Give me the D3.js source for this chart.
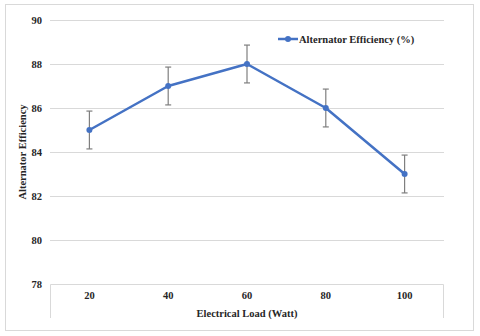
<!DOCTYPE html>
<html>
<head>
<meta charset="utf-8">
<script src="https://cdn.jsdelivr.net/npm/d3@7"></script>
<style>
  body { margin: 0; background: #fff; }
  text { font-family: "Liberation Serif", "Times New Roman", serif; font-weight: bold; fill: #262626; }
</style>
</head>
<body>
<div id="chart"></div>
<script>
// data
var loads = ["20", "40", "60", "80", "100"];
var efficiency = [85, 87, 88, 86, 83];
var errors = [0.86, 0.86, 0.86, 0.86, 0.86];
var yTicks = [78, 80, 82, 84, 86, 88, 90];
var seriesName = "Alternator Efficiency (%)";

var W = 480, H = 336;
var margin = {top: 20, right: 36, bottom: 52, left: 50},
    width = W - margin.left - margin.right,
    height = H - margin.top - margin.bottom;

var svg = d3.select("#chart")
  .append("svg")
    .attr("width", W)
    .attr("height", H);

// outer frame
svg.append("rect")
  .attr("x", 5.5).attr("y", 4.5)
  .attr("width", 468).attr("height", 326)
  .attr("fill", "none")
  .attr("stroke", "#d9d9d9");

var g = svg.append("g")
  .attr("transform", "translate(" + margin.left + "," + margin.top + ")");

var x = d3.scaleBand()
  .domain(loads)
  .range([0, width]);

var y = d3.scaleLinear()
  .domain([78, 90])
  .range([height, 0]);

// gridlines
g.append("g")
  .selectAll("line")
  .data(yTicks.slice(1))
  .enter()
  .append("line")
    .attr("x1", 0).attr("x2", width)
    .attr("y1", d => Math.round(y(d)) + 0.5)
    .attr("y2", d => Math.round(y(d)) + 0.5)
    .attr("stroke", "#d9d9d9")
    .attr("stroke-width", 1);

// y tick labels
g.append("g")
  .selectAll("text")
  .data(yTicks)
  .enter()
  .append("text")
    .attr("x", -8)
    .attr("y", d => y(d))
    .attr("dy", "0.35em")
    .attr("text-anchor", "end")
    .style("font-size", "10.5px")
    .text(d => d);

// category axis box
var axisG = g.append("g").attr("transform", "translate(0," + height + ")");
axisG.append("path")
  .attr("d", "M0.5,34V0.5H" + (width - 0.5) + "V34")
  .attr("fill", "none")
  .attr("stroke", "#d9d9d9");

axisG.selectAll("text")
  .data(loads)
  .enter()
  .append("text")
    .attr("x", d => x(d) + x.bandwidth() / 2)
    .attr("y", 11)
    .attr("dy", "0.35em")
    .attr("text-anchor", "middle")
    .style("font-size", "10.5px")
    .text(d => d);

// axis titles
svg.append("text")
  .attr("x", margin.left + width / 2)
  .attr("y", 313)
  .attr("dy", "0.35em")
  .attr("text-anchor", "middle")
  .style("font-size", "10.5px")
  .text("Electrical Load (Watt)");

svg.append("text")
  .attr("transform", "translate(22," + (margin.top + y(84)) + ") rotate(-90)")
  .attr("dy", "0.35em")
  .attr("text-anchor", "middle")
  .style("font-size", "10.5px")
  .text("Alternator Efficiency");

var pts = loads.map((d, i) => ({load: d, val: efficiency[i], err: errors[i]}));
var cx = d => x(d.load) + x.bandwidth() / 2;

// error bars
var eb = g.append("g")
  .selectAll("g")
  .data(pts)
  .enter()
  .append("g")
    .attr("stroke", "#7f7f7f")
    .attr("stroke-width", 1.2);
eb.append("line")
  .attr("x1", cx).attr("x2", cx)
  .attr("y1", d => y(d.val + d.err))
  .attr("y2", d => y(d.val - d.err));
eb.append("line")
  .attr("x1", d => cx(d) - 3).attr("x2", d => cx(d) + 3)
  .attr("y1", d => y(d.val + d.err)).attr("y2", d => y(d.val + d.err));
eb.append("line")
  .attr("x1", d => cx(d) - 3).attr("x2", d => cx(d) + 3)
  .attr("y1", d => y(d.val - d.err)).attr("y2", d => y(d.val - d.err));

// line
var line = d3.line()
  .x(cx)
  .y(d => y(d.val));

g.append("path")
  .datum(pts)
  .attr("fill", "none")
  .attr("stroke", "#4472c4")
  .attr("stroke-width", 2.5)
  .attr("stroke-linejoin", "round")
  .attr("d", line);

g.append("g")
  .selectAll("circle")
  .data(pts)
  .enter()
  .append("circle")
    .attr("cx", cx)
    .attr("cy", d => y(d.val))
    .attr("r", 3)
    .attr("fill", "#4472c4");

// legend
var lg = svg.append("g").attr("transform", "translate(278,39)");
lg.append("line")
  .attr("x1", 0).attr("x2", 20)
  .attr("stroke", "#4472c4")
  .attr("stroke-width", 2.5);
lg.append("circle")
  .attr("cx", 10).attr("r", 3)
  .attr("fill", "#4472c4");
lg.append("text")
  .attr("x", 21)
  .attr("dy", "0.35em")
  .style("font-size", "10.5px")
  .text(seriesName);
</script>
</body>
</html>
